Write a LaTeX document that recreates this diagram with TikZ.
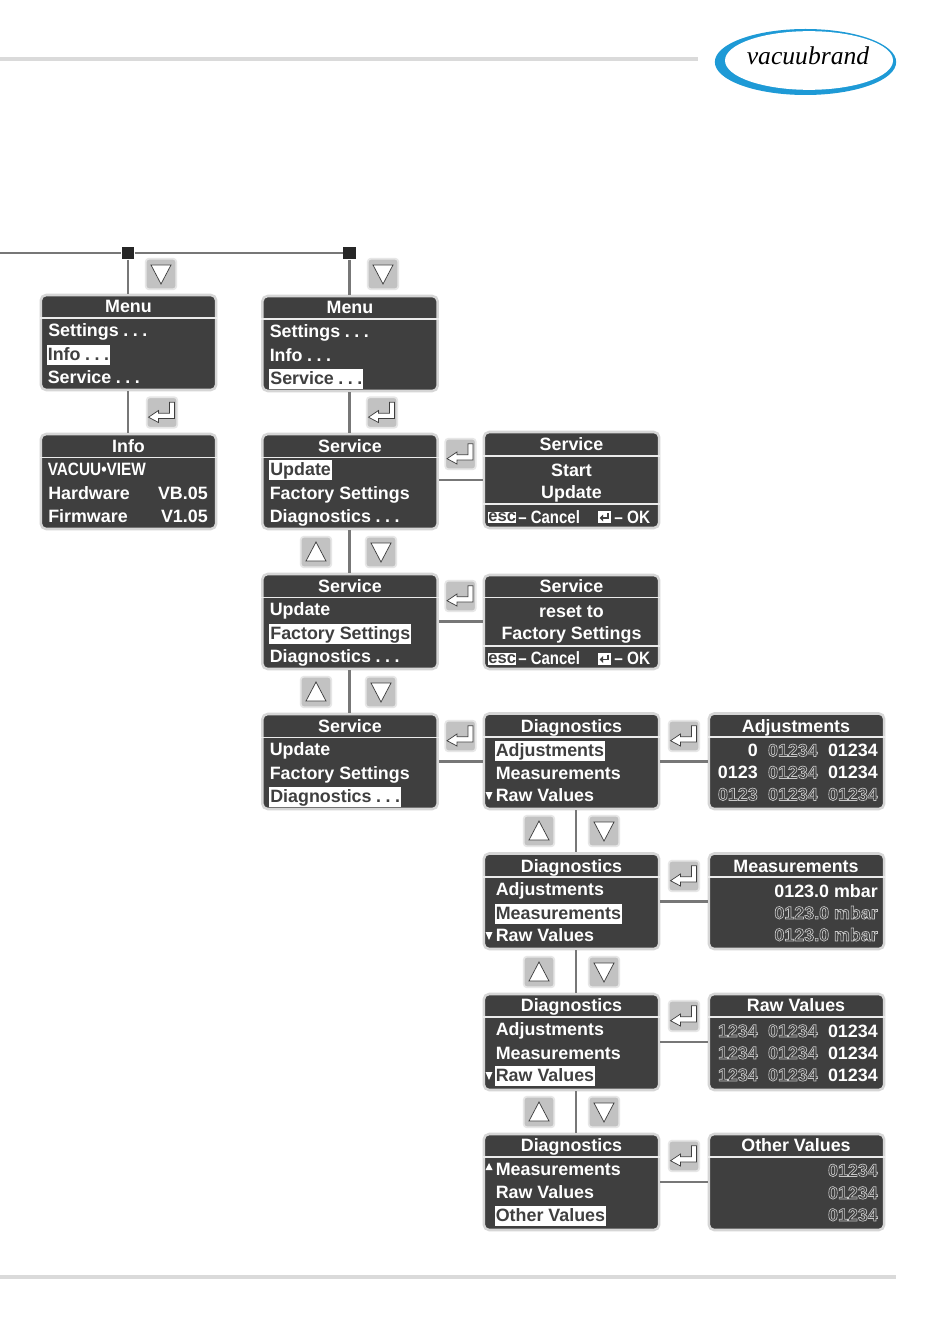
\documentclass[tikz,border=0pt]{standalone}
\usetikzlibrary{shapes.geometric}
\usepackage{fontspec}
\setmainfont{Liberation Sans}
\newfontfamily\logofont{Liberation Serif}
\usepackage{graphicx}
\definecolor{scr}{HTML}{3F3F3F}
\definecolor{edgec}{HTML}{D6D6D6}
\definecolor{rulec}{HTML}{DADADA}
\definecolor{linec}{HTML}{777777}
\definecolor{btnc}{HTML}{C2C2C2}
\definecolor{btne}{HTML}{E6E6E6}
\definecolor{outl}{HTML}{C8C8C8}
\definecolor{logob}{HTML}{1E9AD6}
\tikzset{
  x=0.75pt,y=-0.75pt,
  panel/.style={draw=edgec,line width=1.9pt,fill=scr,rounded corners=4pt,minimum width=131.5pt,inner sep=0pt},
  sep/.style={draw=white!92!black,line width=1.4pt},
  wt/.style={text=white,inner sep=0pt,font=\fontsize{13.4}{15}\selectfont\bfseries},
  hl/.style={wt,text=scr,fill=white,inner xsep=0.8pt,text height=11.6pt,text depth=3.4pt},
  btn/.style={draw=btne,line width=1.3pt,fill=btnc,rounded corners=2.5pt,minimum size=23pt,inner sep=0pt},
  ico/.style={draw=scr,fill=white,line width=0.55pt,line join=miter},
  conn/.style={draw=linec,line width=1.9pt},
  hrule/.style={draw=rulec,line width=2.8pt},
  junc/.style={fill=black!85,minimum size=9.5pt,inner sep=0pt},
  col3/.style={xshift=3.4pt},
}
\newcount\tn
\newcommand\dd{\hspace{3.4pt}.\hspace{3.4pt}.\hspace{3.4pt}.}
% panel id, left, top, bottom, rule y
\newcommand\panel[5]{\node[panel,minimum height={(#4-#3)*0.75pt}] (#1) at ({#2+88.5},{(#3+#4)/2}) {};
  \draw[sep] (#1.west |- 0,#5) -- (#1.east |- 0,#5);}
\newcommand\Lt[3]{\global\advance\tn by 1 \node[wt,anchor=base west] (t\the\tn) at (#1,#2) {#3};}
\newcommand\Rt[3]{\global\advance\tn by 1 \node[wt,anchor=base east] (t\the\tn) at (#1,#2) {#3};}
\newcommand\Ct[3]{\global\advance\tn by 1 \node[wt,anchor=base] (t\the\tn) at (#1,#2) {#3};}
\newcommand\Hl[3]{\global\advance\tn by 1 \node[hl,anchor=base west] (t\the\tn) at (#1,#2) {#3};}
\newcommand\ol[1]{{\color{outl}\special{pdf:code 1 Tr 0.5 w}#1\special{pdf:code 0 Tr}}}
\newcommand\downb[3]{\node[btn] (#1) at (#2,#3) {};
  \draw[ico] (#1.center) ++(-10,-9) -- ++(20,0) -- ++(-10,19) -- cycle;}
\newcommand\upb[3]{\node[btn] (#1) at (#2,#3) {};
  \draw[ico] (#1.center) ++(-10,9) -- ++(20,0) -- ++(-10,-19) -- cycle;}
\newcommand\entb[3]{\node[btn] (#1) at (#2,#3) {};
  \draw[ico] (#1.center) ++(-13.5,4.7) -- ++(10,-6.7) -- ++(0,2.7) -- ++(11,0) -- ++(0,-11) -- ++(5,0) -- ++(0,16.3) -- ++(-16,0) -- ++(0,4) -- cycle;}
\newcommand\footrow[1]{%
  \global\advance\tn by 1
  \node[fill=white,text=scr,inner sep=0pt,minimum width=21pt,minimum height=8.4pt,font=\fontsize{12.4}{13}\selectfont\bfseries,anchor=west] (t\the\tn) at (488,{#1-5.5}) {\raisebox{-0.2pt}{esc}};
  \Lt{518}{#1}{\scalebox{0.84}[1]{– Cancel}}
  \global\advance\tn by 1
  \node[fill=white,minimum width=9.5pt,minimum height=9pt,inner sep=0pt] (t\the\tn) at (604.5,{#1-6}) {};
  \draw[draw=scr,line width=1.2pt] (608,{#1-10}) -- (608,{#1-5}) -- (602,{#1-5});
  \fill[scr] (599.5,{#1-5}) -- (603,{#1-8.5}) -- (603,{#1-1.5}) -- cycle;
  \Lt{614}{#1}{\scalebox{0.86}[1]{– OK}}}
\newcommand\tmark[3]{\fill[white] (#1,#2) -- ({#1+7},#2) -- ({#1+3.5},#3) -- cycle;}
\begin{document}
\begin{tikzpicture}
\useasboundingbox (0,0) rectangle (950,1344);
\fill[white] (0,0) rectangle (950,1344);
% page furniture
\coordinate (hl) at (0,59); \coordinate (hr) at (698,59);
\coordinate (fl) at (0,1277); \coordinate (fr) at (896,1277);
\draw[hrule] (hl) -- (hr);
\draw[hrule] (fl) -- (fr);
% logo
\node[ellipse,fill=logob,minimum width=136pt,minimum height=49.5pt,inner sep=0pt] (logoO) at (805.5,62) {};
\node[ellipse,fill=white,minimum width=126pt,minimum height=44pt,inner sep=0pt] (logoI) at (809,60.5) {};
\node[inner sep=0pt,anchor=base,font=\logofont\itshape\fontsize{19.2}{20}\selectfont] (logoT) at (808,65) {vacuubrand};
% panels
\panel{m1}{40}{295}{390}{318}
\panel{i1}{40}{434}{529}{457.5}
\panel{m2}{261.5}{296}{391}{319}
\panel{s1}{261.5}{434}{529}{457.5}
\panel{s2}{261.5}{574}{669}{597.5}
\panel{s3}{261.5}{714}{809}{737.5}
\panel{st}{483}{432}{528}{456}
\draw[sep] (st.west |- 0,504) -- (st.east |- 0,504);
\panel{rs}{483}{575}{669}{597.5}
\draw[sep] (rs.west |- 0,646) -- (rs.east |- 0,646);
\panel{d1}{483}{713.5}{809}{737}
\panel{d2}{483}{853.5}{949}{877}
\panel{d3}{483}{994}{1090}{1017}
\panel{d4}{483}{1134}{1230}{1157}
\panel{a1}{708}{713.5}{809}{737}
\panel{a2}{708}{853.5}{949}{877}
\panel{a3}{708}{994}{1090}{1017}
\panel{a4}{708}{1134}{1230}{1157}
% junctions and connectors
\coordinate (ls) at (0,253);
\node[junc] (j1) at (128,253) {};
\node[junc] (j2) at (349.5,253) {};
\draw[conn] (ls) -- (j1) -- (j2);
\draw[conn] (j1) -- (j1 |- m1.north);
\draw[conn] (j2) -- (j2 |- m2.north);
\draw[conn] (j1 |- m1.south) -- (j1 |- i1.north);
\draw[conn] (j2 |- m2.south) -- (j2 |- s1.north);
\draw[conn] (j2 |- s1.south) -- (j2 |- s2.north);
\draw[conn] (j2 |- s2.south) -- (j2 |- s3.north);
\draw[conn] (st.west) -- (st.west -| s1.east);
\draw[conn] (rs.west |- s2.east) -- (s2.east);
\draw[conn] (d1.west) -- (s3.east |- d1.west);
\draw[conn] ([col3]d1.south) -- ([col3]d2.north);
\draw[conn] ([col3]d2.south) -- ([col3]d3.north);
\draw[conn] ([col3]d3.south) -- ([col3]d4.north);
\draw[conn] (d1.east) -- (a1.west);
\draw[conn] (d2.east) -- (a2.west);
\draw[conn] (d3.east) -- (a3.west);
\draw[conn] (d4.east) -- (a4.west);
% buttons
\downb{b1}{161}{274}
\entb{b2}{162}{412.5}
\downb{b3}{383}{274}
\entb{b4}{382}{412.5}
\entb{b5}{460.5}{454}
\upb{b6}{316}{552}\downb{b7}{381}{552}
\entb{b8}{460.5}{596}
\upb{b9}{316}{692}\downb{b10}{381}{692}
\entb{b11}{460.5}{736}
\entb{b12}{684}{736}
\upb{b13}{539}{831}\downb{b14}{604}{831}
\entb{b15}{684}{876}
\upb{b16}{539}{972}\downb{b17}{604}{972}
\entb{b18}{684}{1016}
\upb{b19}{539}{1112}\downb{b20}{604}{1112}
\entb{b21}{684}{1156}
% Menu 1
\Ct{128.5}{312.5}{Menu}
\Lt{48}{336}{Settings\dd}
\Hl{46.5}{360.5}{Info\dd}
\Lt{47.5}{383}{Service\dd}
% Info
\Ct{128.5}{452}{Info}
\Lt{47.5}{475}{\scalebox{0.86}[1]{VACUU•VIEW}}
\Lt{48}{499}{Hardware}\Rt{208}{499}{VB.05}
\Lt{48}{522.5}{Firmware}\Rt{208}{522.5}{V1.05}
% Menu 2
\Ct{350}{313.5}{Menu}
\Lt{269.5}{337}{Settings\dd}
\Lt{269.5}{361}{Info\dd}
\Hl{269}{384}{Service\dd}
% Service
\Ct{350}{452}{Service}
\Hl{269}{475}{Update}
\Lt{269.5}{499}{Factory Settings}
\Lt{269.5}{522}{Diagnostics\dd}
\Ct{350}{592}{Service}
\Lt{269.5}{615.5}{Update}
\Hl{269}{639}{Factory Settings}
\Lt{269.5}{662}{Diagnostics\dd}
\Ct{350}{732}{Service}
\Lt{269.5}{755.5}{Update}
\Lt{269.5}{779}{Factory Settings}
\Hl{269}{802}{Diagnostics\dd}
% Start / reset
\Ct{571.5}{450.5}{Service}
\Ct{571.5}{476}{Start}
\Ct{571.5}{498}{Update}
\footrow{523}
\Ct{571.5}{592}{Service}
\Ct{571.5}{617.5}{reset to}
\Ct{571.5}{639}{Factory Settings}
\footrow{664.5}
% Diagnostics
\Ct{571.5}{732}{Diagnostics}
\Hl{494.5}{756}{Adjustments}
\Lt{495.5}{779}{Measurements}
\Lt{495.5}{801.5}{Raw Values}
\tmark{485.5}{792}{800}
\Ct{571.5}{872}{Diagnostics}
\Lt{495.5}{895.5}{Adjustments}
\Hl{494.5}{919}{Measurements}
\Lt{495.5}{941.5}{Raw Values}
\tmark{485.5}{932}{940}
\Ct{571.5}{1011.5}{Diagnostics}
\Lt{495.5}{1035.5}{Adjustments}
\Lt{495.5}{1059}{Measurements}
\Hl{494.5}{1081}{Raw Values}
\tmark{485.5}{1072}{1080}
\Ct{571.5}{1151.5}{Diagnostics}
\Lt{495.5}{1175}{Measurements}
\Lt{495.5}{1198.5}{Raw Values}
\Hl{494.5}{1221}{Other Values}
\tmark{485.5}{1170}{1163}
% Adjustments
\Ct{796}{732}{Adjustments}
\Rt{758}{756.5}{0}\Rt{818}{756.5}{\ol{01234}}\Rt{878}{756.5}{01234}
\Rt{758}{778.5}{0123}\Rt{818}{778.5}{\ol{01234}}\Rt{878}{778.5}{01234}
\Rt{758}{800.5}{\ol{0123}}\Rt{818}{800.5}{\ol{01234}}\Rt{878}{800.5}{\ol{01234}}
% Measurements
\Ct{796}{872}{Measurements}
\Rt{878}{897.5}{0123.0 mbar}
\Rt{878}{919}{\ol{0123.0 mbar}}
\Rt{878}{941}{\ol{0123.0 mbar}}
% Raw Values
\Ct{796}{1011.5}{Raw Values}
\Rt{758}{1037}{\ol{1234}}\Rt{818}{1037}{\ol{01234}}\Rt{878}{1037}{01234}
\Rt{758}{1059}{\ol{1234}}\Rt{818}{1059}{\ol{01234}}\Rt{878}{1059}{01234}
\Rt{758}{1081}{\ol{1234}}\Rt{818}{1081}{\ol{01234}}\Rt{878}{1081}{01234}
% Other Values
\Ct{796}{1151.5}{Other Values}
\Rt{878}{1176.5}{\ol{01234}}
\Rt{878}{1199}{\ol{01234}}
\Rt{878}{1221}{\ol{01234}}
\end{tikzpicture}
\end{document}
